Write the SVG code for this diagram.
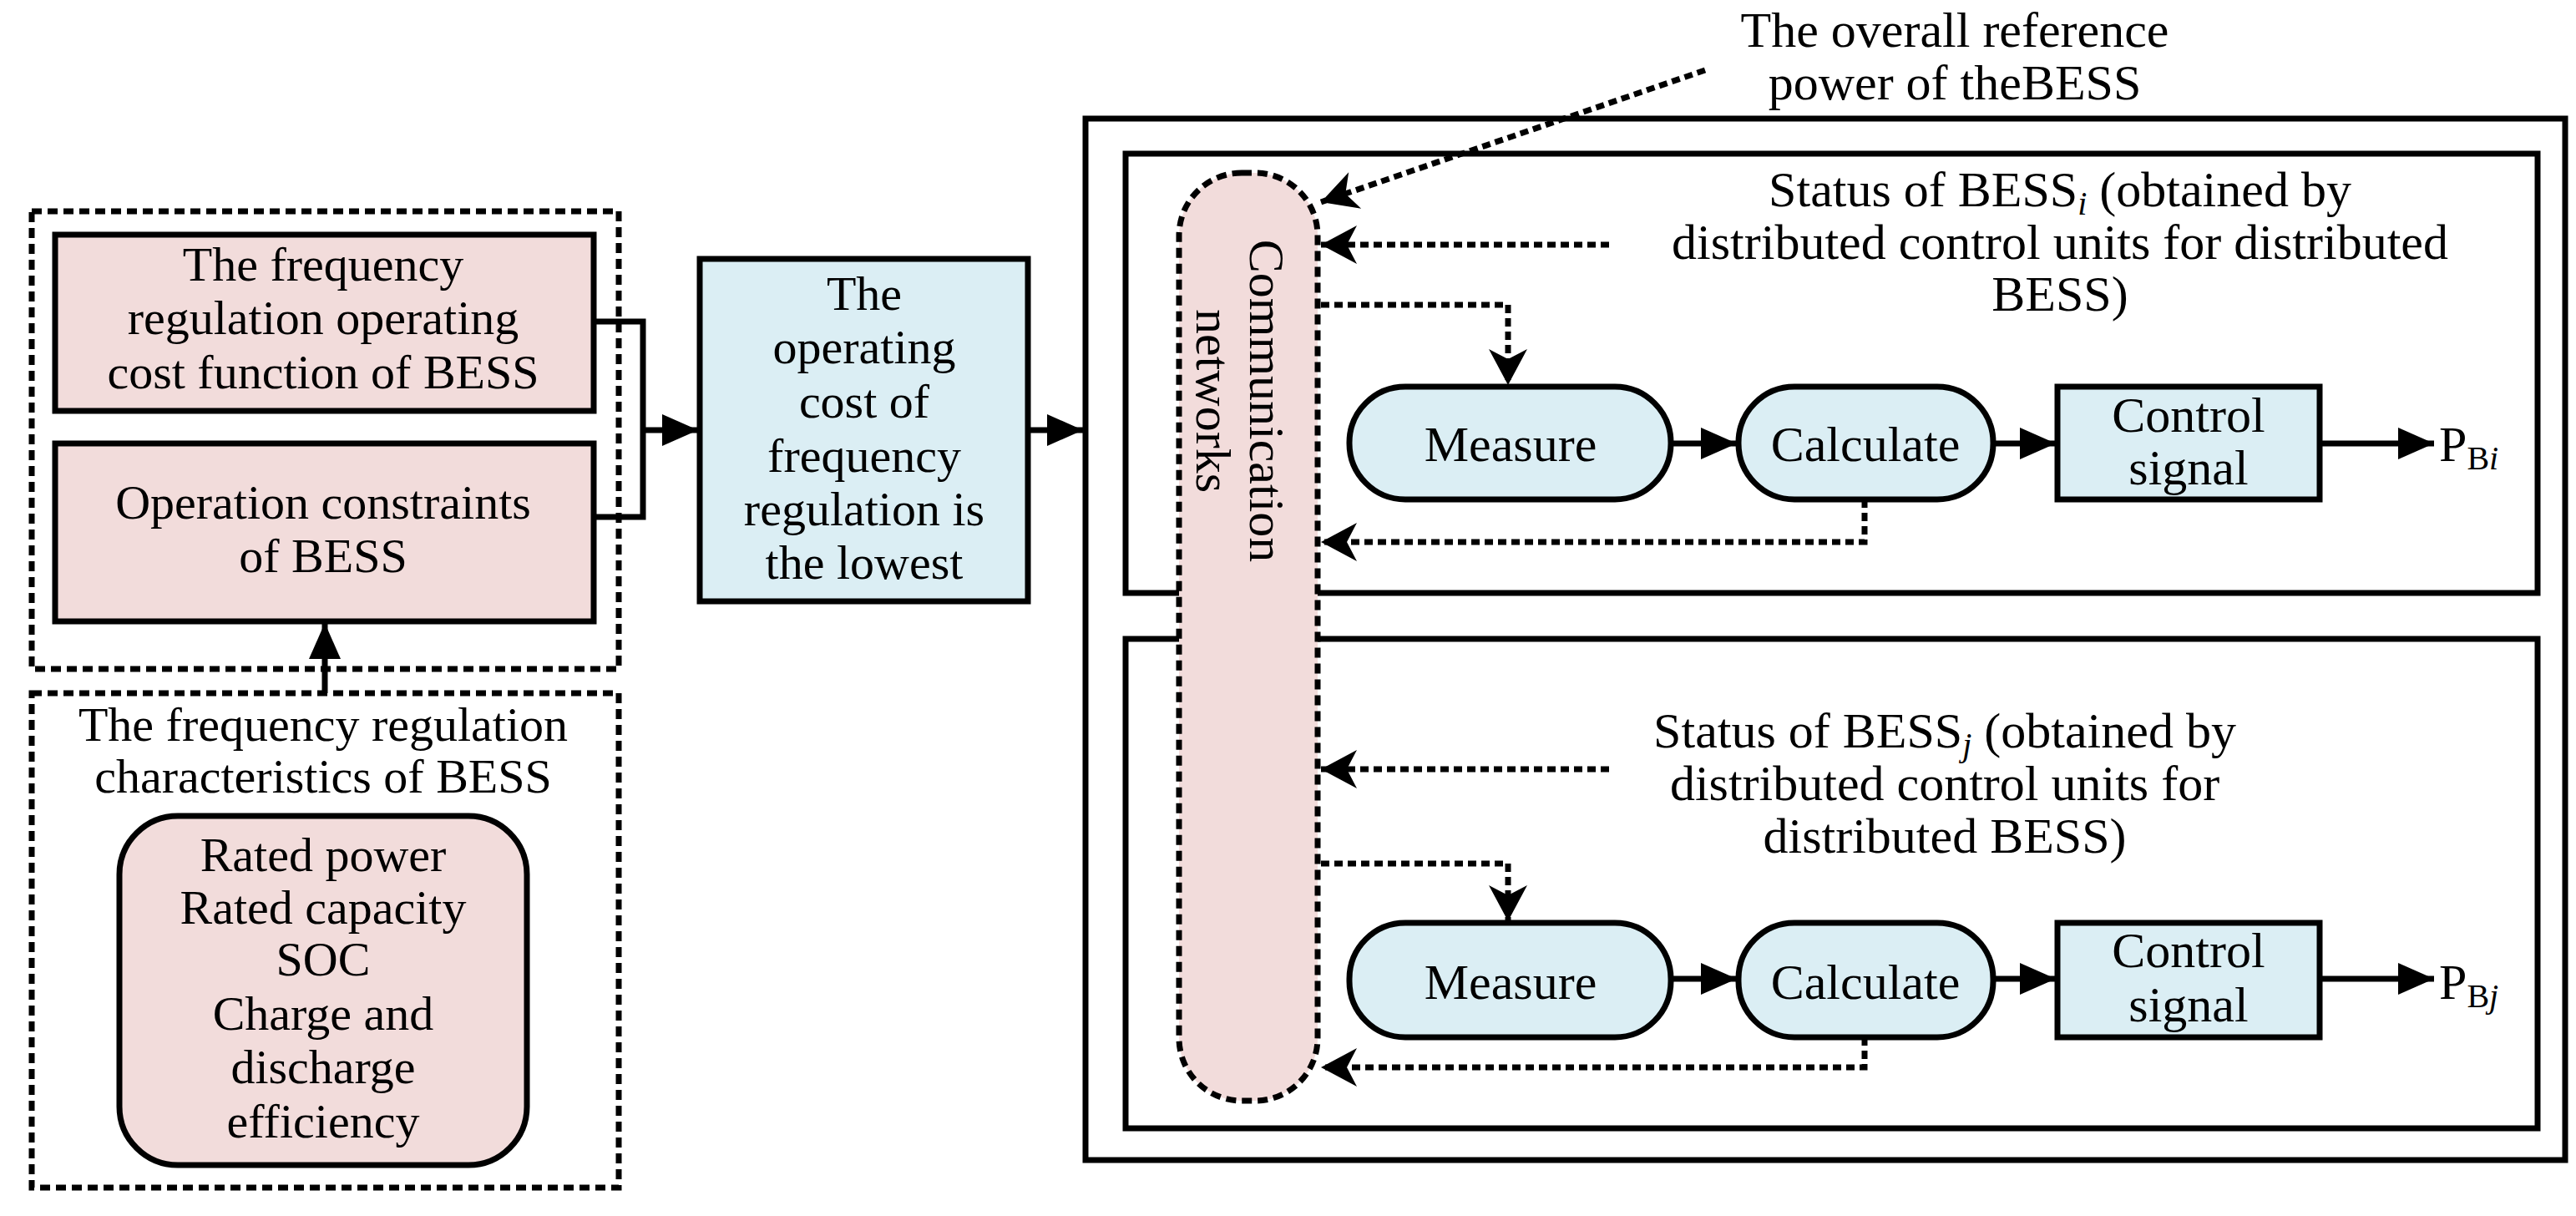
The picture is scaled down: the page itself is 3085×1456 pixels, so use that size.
<svg xmlns="http://www.w3.org/2000/svg" width="3085" height="1456" viewBox="0 0 3085 1456" font-family="'Liberation Serif', Tinos, 'Times New Roman', Times, 'DejaVu Serif', serif">
<style>
text{font-family:'Liberation Serif',Tinos,'Times New Roman',Times,'DejaVu Serif',serif;font-size:58px;fill:#000;text-anchor:middle}
.r{font-size:60px}
.solid{fill:none;stroke:#000;stroke-width:7}
.dash{fill:none;stroke:#000;stroke-width:7;stroke-dasharray:12 7}
.pink{fill:#f2dcdb;stroke:#000;stroke-width:7}
.blue{fill:#dbeef4;stroke:#000;stroke-width:7}
.ln{fill:none;stroke:#000;stroke-width:7}
.dl{fill:none;stroke:#000;stroke-width:7;stroke-dasharray:10 6}
</style>
<defs>
<marker id="a" markerWidth="10" markerHeight="10" refX="9" refY="5" orient="auto" markerUnits="userSpaceOnUse" viewBox="0 0 10 10" style="overflow:visible">
<path d="M-34,-14 L9,5 L-34,24 Z" fill="#000"/>
</marker>
<marker id="d" markerWidth="10" markerHeight="10" refX="9" refY="5" orient="auto" markerUnits="userSpaceOnUse" viewBox="0 0 10 10" style="overflow:visible">
<path d="M-34,-18 L9,5 L-34,28 L-22,5 Z" fill="#000"/>
</marker>
</defs>
<rect width="3085" height="1456" fill="#fff"/>

<g id="leftGroup"><rect class="dash" x="38" y="253" width="703" height="548"/></g>
<g id="costFunction"><rect class="pink" x="66" y="281" width="645" height="211"/>
<text><tspan x="387" y="336">The frequency</tspan><tspan x="387" y="400">regulation operating</tspan><tspan x="387" y="465">cost  function of  BESS</tspan></text></g>
<g id="constraints"><rect class="pink" x="66" y="531" width="645" height="213"/>
<text><tspan x="387" y="621">Operation constraints</tspan><tspan x="387" y="685">of  BESS</tspan></text></g>
<g id="characteristics"><rect class="dash" x="38" y="830" width="703" height="592"/>
<text><tspan x="387" y="887">The frequency regulation</tspan><tspan x="387" y="949">characteristics of BESS</tspan></text></g>
<g id="params"><rect class="pink" x="143" y="977" width="488" height="418" rx="70"/>
<text><tspan x="387" y="1043">Rated power</tspan><tspan x="387" y="1106">Rated capacity</tspan><tspan x="387" y="1168">SOC</tspan><tspan x="387" y="1233">Charge and</tspan><tspan x="387" y="1297">discharge</tspan><tspan x="387" y="1362">efficiency</tspan></text></g>
<g id="lowest"><rect class="blue" x="838" y="310" width="393" height="410"/>
<text><tspan x="1035" y="371">The</tspan><tspan x="1035" y="435">operating</tspan><tspan x="1035" y="500">cost of</tspan><tspan x="1035" y="565">frequency</tspan><tspan x="1035" y="629">regulation is</tspan><tspan x="1035" y="693">the lowest</tspan></text></g>

<g id="outer"><rect class="solid" x="1300" y="142" width="1772" height="1247"/></g>
<g id="unitI"><rect class="solid" x="1348" y="184" width="1691" height="526"/></g>
<g id="unitJ"><rect class="solid" x="1348" y="765" width="1691" height="586"/></g>
<g id="comm"><rect x="1412" y="207" width="166" height="1111" rx="75" fill="#f2dcdb" stroke="#000" stroke-width="7" stroke-dasharray="12 7"/>
<text class="r" transform="translate(1497,480) rotate(90)"><tspan x="0" y="0">Communication</tspan><tspan x="0" y="64">networks</tspan></text></g>

<g id="refText"><text class="r"><tspan x="2341" y="56">The overall reference</tspan><tspan x="2341" y="119">power of theBESS</tspan></text></g>
<g id="statusI"><text class="r"><tspan x="2467" y="247">Status of BESS</tspan><tspan font-style="italic" font-size="40" dy="10">i</tspan><tspan dy="-10"> (obtained by</tspan></text>
<text class="r"><tspan x="2467" y="310">distributed control units for distributed</tspan><tspan x="2467" y="372">BESS)</tspan></text></g>
<g id="statusJ"><text class="r"><tspan x="2329" y="895">Status of BESS</tspan><tspan font-style="italic" font-size="40" dy="10">j</tspan><tspan dy="-10"> (obtained by</tspan></text>
<text class="r"><tspan x="2329" y="958">distributed control units for</tspan><tspan x="2329" y="1021">distributed BESS)</tspan></text></g>

<g id="measureI"><rect class="blue" x="1616" y="463" width="385" height="135" rx="67"/><text class="r"><tspan x="1809" y="552">Measure</tspan></text></g>
<g id="calcI"><rect class="blue" x="2082" y="463" width="305" height="135" rx="67"/><text class="r"><tspan x="2234" y="552">Calculate</tspan></text></g>
<g id="ctrlI"><rect class="blue" x="2464" y="463" width="314" height="135"/><text class="r"><tspan x="2621" y="517">Control</tspan><tspan x="2621" y="580">signal</tspan></text></g>
<g id="pBi"><text class="r" style="text-anchor:start"><tspan x="2921" y="552">P</tspan><tspan font-size="40" dy="10">B</tspan><tspan font-size="40" font-style="italic">i</tspan></text></g>

<g id="measureJ"><rect class="blue" x="1616" y="1105" width="385" height="137" rx="67"/><text class="r"><tspan x="1809" y="1196">Measure</tspan></text></g>
<g id="calcJ"><rect class="blue" x="2082" y="1105" width="305" height="137" rx="67"/><text class="r"><tspan x="2234" y="1196">Calculate</tspan></text></g>
<g id="ctrlJ"><rect class="blue" x="2464" y="1105" width="314" height="137"/><text class="r"><tspan x="2621" y="1158">Control</tspan><tspan x="2621" y="1223">signal</tspan></text></g>
<g id="pBj"><text class="r" style="text-anchor:start"><tspan x="2921" y="1196">P</tspan><tspan font-size="40" dy="10">B</tspan><tspan font-size="40" font-style="italic">j</tspan></text></g>

<g id="connectors">
<path class="ln" d="M711,385 H770 V619 H711"/>
<path class="ln" d="M770,515 H836" marker-end="url(#a)"/>
<path class="ln" d="M1231,515 H1297" marker-end="url(#a)"/>
<path class="ln" d="M389,830 V746" marker-end="url(#a)"/>
<path class="dl" d="M2042,84 L1582,242" marker-end="url(#d)"/>
<path class="dl" d="M1927,293 H1582" marker-end="url(#d)"/>
<path class="dl" d="M1582,365 H1806 V461" marker-end="url(#d)"/>
<path class="dl" d="M2233,598 V649 H1582" marker-end="url(#d)"/>
<path class="ln" d="M2001,531 H2080" marker-end="url(#a)"/>
<path class="ln" d="M2387,531 H2462" marker-end="url(#a)"/>
<path class="ln" d="M2778,531 H2915" marker-end="url(#a)"/>
<path class="dl" d="M1927,921 H1582" marker-end="url(#d)"/>
<path class="dl" d="M1582,1034 H1806 V1103" marker-end="url(#d)"/>
<path class="dl" d="M2233,1242 V1278 H1582" marker-end="url(#d)"/>
<path class="ln" d="M2001,1172 H2080" marker-end="url(#a)"/>
<path class="ln" d="M2387,1172 H2462" marker-end="url(#a)"/>
<path class="ln" d="M2778,1172 H2915" marker-end="url(#a)"/>
</g>
</svg>
